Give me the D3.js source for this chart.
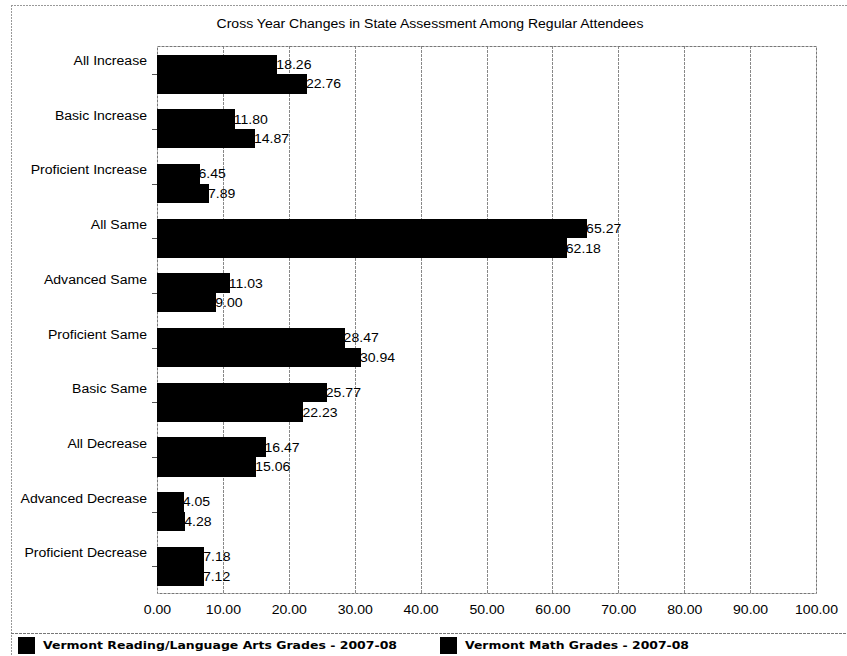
<!DOCTYPE html>
<html>
<head>
<meta charset="utf-8">
<script src="https://cdn.jsdelivr.net/npm/d3@7"></script>
<style>
  html, body { margin: 0; padding: 0; background: #fff; }
  svg { display: block; }
  text { font-family: "Liberation Sans", Arial, sans-serif; fill: #000; }
</style>
</head>
<body>
<svg id="chart" width="847" height="656"></svg>
<script>
// ---- data ----
const title = "Cross Year Changes in State Assessment Among Regular Attendees";
const categories = ["All Increase", "Basic Increase", "Proficient Increase", "All Same",
  "Advanced Same", "Proficient Same", "Basic Same", "All Decrease",
  "Advanced Decrease", "Proficient Decrease"];
const seriesNames = ["Vermont Reading/Language Arts Grades - 2007-08", "Vermont Math Grades - 2007-08"];
const readingValues = [18.26, 11.80, 6.45, 65.27, 11.03, 28.47, 25.77, 16.47, 4.05, 7.18];
const mathValues = [22.76, 14.87, 7.89, 62.18, 9.00, 30.94, 22.23, 15.06, 4.28, 7.12];
const xTicks = [0, 10, 20, 30, 40, 50, 60, 70, 80, 90, 100];

// ---- layout ----
const svg = d3.select("#chart");
const plot = { left: 157, right: 816, top: 46, bottom: 593 };
const stretchK = 1.17;

function stretch(sel) {
  sel.each(function () {
    const w = this.getComputedTextLength();
    d3.select(this).attr("textLength", w * stretchK).attr("lengthAdjust", "spacingAndGlyphs");
  });
}

// outer frame
svg.append("line").attr("x1", 11).attr("x2", 847).attr("y1", 5.5).attr("y2", 5.5)
  .attr("stroke", "#999").attr("stroke-dasharray", "2,1");
svg.append("line").attr("x1", 11.5).attr("x2", 11.5).attr("y1", 5).attr("y2", 656)
  .attr("stroke", "#999").attr("stroke-dasharray", "2,1");

// title
svg.append("text").attr("x", 430).attr("y", 28).attr("text-anchor", "middle")
  .style("font-size", "12px").text(title).call(stretch);

const x = d3.scaleLinear().domain([0, 100]).range([plot.left, plot.right]);
const y = d3.scaleBand().domain(categories).range([plot.top, plot.bottom])
  .paddingInner(0.285).paddingOuter(0.1425).align(0.55);
const ySub = d3.scaleBand().domain([0, 1]).range([0, y.bandwidth()]);

// gridlines
svg.append("g").selectAll("line").data(xTicks.slice(1, -1)).join("line")
  .attr("x1", d => Math.round(x(d)) + 0.5).attr("x2", d => Math.round(x(d)) + 0.5)
  .attr("y1", plot.top).attr("y2", plot.bottom)
  .attr("stroke", "#888").attr("stroke-dasharray", "3,1");

// plot border
svg.append("rect").attr("x", plot.left + 0.5).attr("y", plot.top + 0.5)
  .attr("width", plot.right - plot.left).attr("height", plot.bottom - plot.top)
  .attr("fill", "none").attr("stroke", "#777").attr("stroke-dasharray", "3,1");

// x axis labels
const xAxis = d3.axisBottom(x).tickValues(xTicks).tickFormat(d3.format(".2f")).tickSize(0).tickPadding(0);
const gx = svg.append("g").attr("transform", `translate(0,${plot.bottom})`).call(xAxis);
gx.select(".domain").remove();
gx.selectAll("text").attr("y", 21).attr("dy", null).style("font-size", "12px")
  .style("font-family", "Liberation Sans, Arial, sans-serif").attr("fill", "#000").call(stretch);

// y axis: ticks at band centers, labels above center
const gy = svg.append("g");
gy.selectAll("line").data(categories).join("line")
  .attr("x1", plot.left - 5).attr("x2", plot.left)
  .attr("y1", d => Math.round(y(d) + y.bandwidth() / 2) + 0.5)
  .attr("y2", d => Math.round(y(d) + y.bandwidth() / 2) + 0.5)
  .attr("stroke", "#555");
gy.selectAll("text").data(categories).join("text")
  .attr("x", 147).attr("y", d => y(d) + 10.5).attr("text-anchor", "end")
  .style("font-size", "12px").text(d => d).call(stretch);

// bars
const rows = categories.map((c, i) => ({ c, vals: [readingValues[i], mathValues[i]] }));
const groups = svg.append("g").selectAll("g").data(rows).join("g");
groups.selectAll("rect").data(d => d.vals.map((v, k) => ({ v, k, c: d.c }))).join("rect")
  .attr("x", x(0))
  .attr("y", d => Math.round(y(d.c) + ySub(d.k)))
  .attr("width", d => x(d.v) - x(0))
  .attr("height", d => Math.round(y(d.c) + ySub(d.k) + ySub.bandwidth()) - Math.round(y(d.c) + ySub(d.k)))
  .attr("fill", "#000").attr("shape-rendering", "crispEdges");
groups.selectAll("text").data(d => d.vals.map((v, k) => ({ v, k, c: d.c }))).join("text")
  .attr("x", d => x(d.v) - 1).attr("y", d => y(d.c) + ySub(d.k) + ySub.bandwidth() / 2 + 4.5)
  .style("font-size", "12px").text(d => d3.format(".2f")(d.v)).call(stretch);

// legend
svg.append("line").attr("x1", 11).attr("x2", 847).attr("y1", 633.5).attr("y2", 633.5)
  .attr("stroke", "#777").attr("stroke-dasharray", "3,1");
const legendX = [18, 440];
const legendW = [354, 224];
const lg = svg.append("g").selectAll("g").data(seriesNames).join("g")
  .attr("transform", (d, i) => `translate(${legendX[i]},637)`);
lg.append("rect").attr("width", 17).attr("height", 17).attr("fill", "#000");
lg.append("text").attr("x", 25).attr("y", 12)
  .style("font-family", "DejaVu Sans, Verdana, sans-serif").style("font-weight", "bold")
  .style("font-size", "11px")
  .attr("textLength", (d, i) => legendW[i]).attr("lengthAdjust", "spacingAndGlyphs")
  .text(d => d);
</script>
</body>
</html>
